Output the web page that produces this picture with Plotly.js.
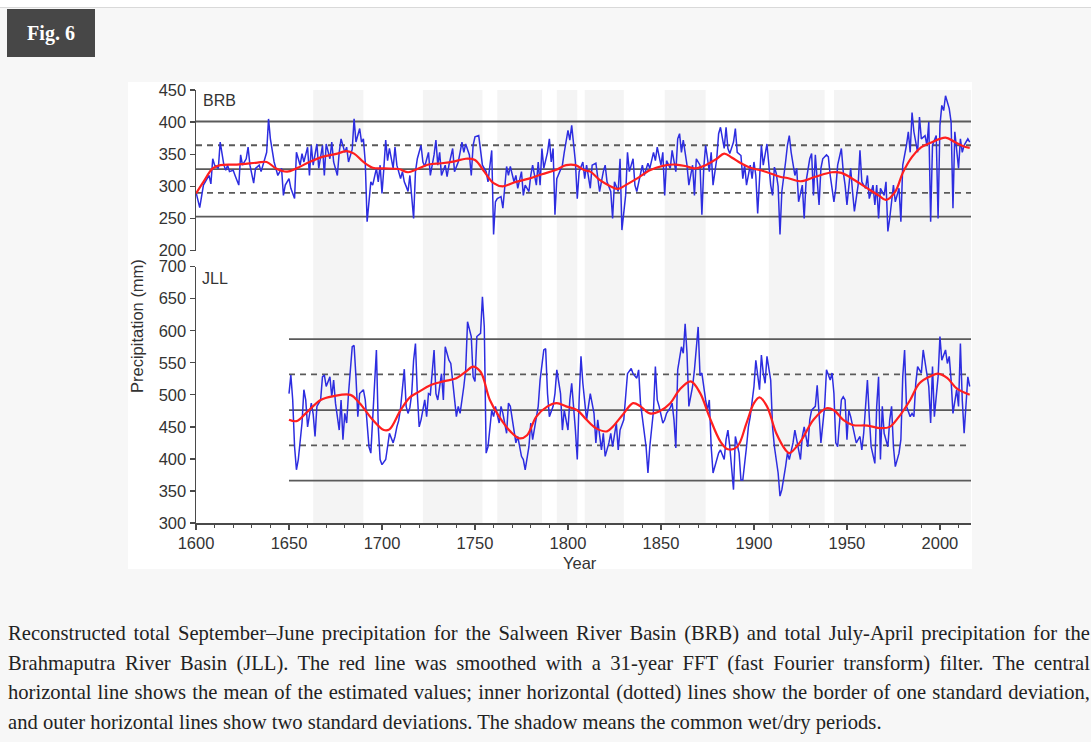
<!DOCTYPE html>
<html>
<head>
<meta charset="utf-8">
<script src="https://cdn.plot.ly/plotly-3.0.1.min.js"></script>
<style>
  html, body { margin:0; padding:0; }
  body { width:1091px; height:742px; overflow:hidden; position:relative; background:#f7f7f7; font-family:"Liberation Serif","Times New Roman",serif; }
  #topstrip { position:absolute; left:0; top:0; width:1091px; height:7px; background:#ffffff; border-bottom:1px solid #d9d9d9; }
  #figlabel { position:absolute; left:7px; top:9px; width:88px; height:48px; background:#474747; color:#ffffff; font-weight:bold; font-size:20px; line-height:48px; text-align:center; }
  #chartbox { position:absolute; left:128px; top:82px; width:844px; height:487px; background:#ffffff; }
  #plot { position:absolute; left:0; top:0; width:1091px; height:742px; }
  #caption { position:absolute; left:8px; top:619px; width:1082px; font-size:20.6px; line-height:29.7px; color:#222; }
  #caption .l { text-align:left; white-space:nowrap; }
  #caption .l span { display:inline-block; white-space:nowrap; }
  #caption .last { text-align:left; white-space:nowrap; }
</style>
</head>
<body>
<div id="topstrip"></div>
<div id="figlabel">Fig. 6</div>
<div id="chartbox"></div>
<div id="plot"></div>
<div id="caption">
  <div class="l"><span>Reconstructed total September–June precipitation for the Salween River Basin (BRB) and total July-April precipitation for the</span></div>
  <div class="l"><span>Brahmaputra River Basin (JLL). The red line was smoothed with a 31-year FFT (fast Fourier transform) filter. The central</span></div>
  <div class="l"><span>horizontal line shows the mean of the estimated values; inner horizontal (dotted) lines show the border of one standard deviation,</span></div>
  <div class="last">and outer horizontal lines show two standard deviations. The shadow means the common wet/dry periods.</div>
</div>
<script>
// ---------------- data ----------------
const brbYears = [1600,1602,1604,1605,1607,1608,1609,1610,1612,1613,1615,1616,1617,1618,1620,1621,1623,1624,1625,1627,1628,1629,1631,1632,1634,1635,1636,1638,1639,1640,1642,1643,1644,1646,1647,1648,1650,1651,1653,1654,1656,1657,1658,1660,1661,1662,1663,1665,1666,1668,1669,1670,1672,1673,1674,1676,1677,1678,1680,1681,1682,1684,1685,1686,1688,1689,1690,1691,1692,1694,1695,1697,1698,1699,1700,1701,1702,1703,1704,1706,1707,1708,1710,1711,1712,1713,1714,1715,1717,1718,1719,1721,1722,1723,1725,1726,1728,1729,1730,1731,1732,1734,1735,1736,1738,1739,1741,1742,1743,1744,1745,1747,1748,1749,1750,1752,1753,1754,1756,1757,1759,1760,1761,1762,1764,1765,1767,1768,1769,1771,1772,1773,1775,1776,1777,1779,1780,1781,1783,1784,1785,1786,1787,1789,1790,1791,1792,1793,1794,1796,1797,1798,1800,1801,1802,1804,1805,1806,1808,1809,1810,1812,1813,1815,1816,1817,1819,1820,1821,1823,1824,1825,1827,1828,1829,1831,1832,1833,1835,1836,1837,1839,1840,1841,1843,1844,1846,1847,1848,1850,1851,1852,1853,1855,1856,1858,1859,1860,1861,1862,1864,1865,1867,1868,1869,1871,1872,1873,1874,1876,1877,1878,1880,1881,1882,1884,1885,1886,1887,1889,1890,1891,1893,1894,1895,1896,1898,1899,1900,1901,1902,1904,1905,1907,1908,1909,1910,1911,1912,1913,1914,1915,1917,1918,1919,1920,1922,1923,1924,1926,1927,1928,1930,1931,1932,1933,1935,1936,1937,1939,1940,1941,1943,1944,1945,1947,1948,1949,1950,1952,1953,1954,1956,1957,1958,1960,1961,1962,1964,1965,1966,1967,1968,1970,1971,1972,1973,1975,1976,1978,1979,1980,1982,1983,1984,1985,1986,1988,1989,1990,1992,1993,1994,1995,1996,1998,1999,2000,2001,2002,2003,2005,2006,2007,2008,2010,2011,2012,2013,2015,2016];
const brbPrecip = [291,267,302,307,317,304,343,333,328,369,333,325,333,323,325,317,302,349,333,343,361,333,305,328,333,323,333,353,405,374,338,325,317,328,286,302,312,297,281,353,333,351,338,361,317,364,333,366,328,364,317,366,343,369,338,317,353,374,353,361,338,358,405,369,390,369,374,338,245,307,302,328,307,333,289,328,372,340,359,328,361,333,312,323,307,300,292,317,250,323,343,364,338,331,353,317,349,372,333,353,317,333,315,333,359,323,338,353,369,353,366,349,317,364,377,379,359,333,323,307,356,225,276,281,284,266,331,317,331,307,317,297,323,286,302,292,317,333,302,338,302,359,328,353,374,338,359,256,312,328,333,353,387,372,395,338,281,323,338,312,333,297,333,336,312,292,323,333,307,292,250,307,292,343,232,286,353,323,343,302,292,317,333,317,336,328,353,340,361,333,353,286,340,328,356,323,374,382,353,372,333,302,333,286,343,333,256,328,364,323,353,302,343,382,392,359,392,359,351,369,390,353,348,312,333,302,333,312,338,317,258,364,333,366,333,302,286,330,320,300,225,292,338,364,379,353,317,328,276,302,250,307,343,351,286,349,271,328,343,349,346,317,276,297,333,359,323,302,271,328,292,261,302,356,307,297,317,281,302,271,302,250,297,286,307,230,250,302,276,297,245,333,364,385,353,415,385,353,408,374,379,364,400,245,364,379,250,395,426,418,441,421,400,266,385,328,374,353,364,374,369];

const brbSmoothYears = [1600,1604,1609,1613,1622,1633,1638,1643,1649,1654,1661,1668,1676,1681,1685,1690,1695,1701,1709,1714,1719,1725,1732,1739,1745,1750,1755,1760,1765,1771,1779,1786,1793,1799,1804,1809,1812,1817,1823,1827,1831,1837,1844,1851,1858,1864,1868,1874,1880,1884,1888,1893,1898,1905,1914,1918,1925,1933,1942,1947,1954,1961,1967,1971,1976,1980,1985,1990,1995,2003,2008,2013,2016];
const brbSmooth = [289,307,328,333,334,337,338,328,323,328,338,346,351,355,351,338,329,328,327,322,327,334,336,339,343,341,323,305,300,306,312,319,325,333,333,325,323,310,300,296,302,312,325,332,334,331,328,333,343,351,345,336,329,324,315,313,308,315,322,321,310,297,286,279,292,321,346,361,368,376,369,362,360];

const jllYears = [1650,1651,1652,1653,1654,1655,1657,1658,1659,1660,1662,1663,1664,1665,1667,1668,1669,1670,1672,1673,1674,1675,1677,1678,1679,1680,1681,1682,1684,1685,1686,1687,1688,1690,1691,1693,1694,1695,1697,1698,1699,1700,1702,1703,1704,1706,1707,1708,1709,1710,1712,1713,1714,1715,1716,1717,1718,1719,1720,1721,1723,1724,1725,1726,1728,1729,1730,1732,1733,1734,1736,1737,1738,1740,1741,1742,1744,1745,1746,1748,1749,1750,1751,1753,1754,1755,1756,1757,1759,1760,1761,1763,1764,1765,1767,1768,1769,1771,1772,1773,1775,1776,1777,1779,1780,1781,1783,1784,1785,1787,1788,1789,1790,1792,1793,1794,1796,1797,1798,1800,1801,1802,1804,1805,1806,1807,1808,1810,1811,1812,1814,1815,1816,1818,1819,1820,1822,1823,1824,1826,1827,1828,1830,1831,1832,1834,1835,1837,1838,1839,1840,1842,1843,1844,1846,1847,1848,1849,1851,1852,1853,1855,1856,1857,1858,1859,1861,1862,1863,1864,1865,1867,1868,1869,1870,1871,1872,1874,1875,1876,1877,1878,1880,1881,1882,1884,1885,1886,1887,1889,1890,1892,1893,1894,1896,1897,1898,1900,1901,1902,1903,1904,1905,1906,1907,1909,1910,1911,1913,1914,1915,1917,1918,1919,1921,1922,1923,1925,1926,1927,1929,1930,1931,1933,1934,1935,1936,1938,1939,1941,1942,1943,1944,1945,1947,1948,1949,1950,1951,1952,1954,1955,1957,1958,1959,1961,1962,1963,1965,1966,1967,1968,1969,1970,1972,1973,1974,1975,1976,1978,1979,1980,1981,1982,1984,1985,1986,1987,1988,1990,1991,1992,1994,1995,1996,1997,1999,2000,2001,2003,2004,2005,2006,2007,2009,2010,2011,2012,2013,2015,2016];
const jllPrecip = [502,531,492,419,383,399,456,508,492,450,487,470,435,482,492,528,531,513,528,497,523,487,445,492,430,471,456,502,575,577,528,466,502,508,492,419,409,461,570,450,399,391,399,419,440,425,435,450,460,480,540,482,471,480,502,554,580,502,450,461,492,466,502,500,570,502,492,533,492,575,554,549,518,466,482,471,513,539,614,591,528,521,591,596,653,606,409,419,476,466,482,456,482,471,440,487,482,440,425,435,404,399,383,419,456,430,461,482,523,570,572,502,466,482,502,539,502,445,476,445,492,518,445,399,492,560,518,461,482,502,471,425,461,414,440,404,425,440,419,456,414,445,461,502,533,541,533,526,539,487,461,419,378,419,476,544,492,482,456,461,471,480,487,461,417,539,575,565,611,565,482,513,539,580,606,530,534,492,476,492,419,378,399,409,414,399,430,445,419,352,435,409,367,367,419,450,466,513,554,534,508,562,534,518,560,523,450,419,378,342,352,388,409,399,425,445,430,399,435,450,419,461,476,482,515,476,425,482,539,523,534,502,425,419,492,497,492,430,476,466,440,425,435,414,440,523,466,419,393,482,528,399,482,440,419,461,482,419,388,409,430,528,570,482,466,471,466,518,544,534,570,549,513,456,544,466,528,591,554,570,549,560,523,471,508,482,580,492,440,528,513];

const jllSmoothYears = [1650,1654,1659,1667,1674,1683,1688,1695,1701,1704,1710,1715,1720,1726,1733,1740,1745,1749,1753,1758,1763,1769,1774,1778,1783,1789,1794,1799,1805,1810,1815,1821,1824,1830,1835,1839,1844,1849,1855,1860,1866,1871,1876,1882,1886,1891,1896,1900,1903,1907,1912,1917,1919,1925,1932,1939,1943,1948,1953,1961,1968,1973,1978,1984,1989,1995,1999,2004,2009,2016];
const jllSmooth = [461,459,471,492,498,500,487,461,445,446,476,496,505,515,521,526,536,544,536,492,466,443,432,437,466,482,487,482,476,461,448,443,450,471,487,482,471,474,487,508,521,503,466,427,415,419,456,487,496,482,440,414,409,427,461,479,476,461,453,452,448,450,466,492,518,529,533,526,510,500];

// common wet/dry periods (shadow)
const bandStart = [1663,1722,1762,1794,1809,1852,1908,1943];
const bandEnd   = [1690,1754,1786,1805,1830,1874,1938,2016.7];

// mean, ±1 SD, ±2 SD levels
const brbLevels = [253,290,327,364,401];
const jllLevels = [366,421,476,532,587];
const levelDash = ['solid','dash','solid','dash','solid'];

const xStart = 1600, xEnd = 2016.7, jllStart = 1650;

// ---------------- figure ----------------
const axisColor = '#4a4a4a';
const fontFam = 'Arial, "Liberation Sans", sans-serif';
const tickFont = {family:fontFam, size:16.5, color:'#333'};

const traces = [
  {x:brbYears, y:brbPrecip, xaxis:'x', yaxis:'y', mode:'lines', line:{color:'#2d2de0', width:1.5}, hoverinfo:'skip'},
  {x:brbSmoothYears, y:brbSmooth, xaxis:'x', yaxis:'y', mode:'lines', line:{color:'#ff1f1f', width:2.2, shape:'spline', smoothing:1}, hoverinfo:'skip'},
  {x:jllYears, y:jllPrecip, xaxis:'x', yaxis:'y2', mode:'lines', line:{color:'#2d2de0', width:1.5}, hoverinfo:'skip'},
  {x:jllSmoothYears, y:jllSmooth, xaxis:'x', yaxis:'y2', mode:'lines', line:{color:'#ff1f1f', width:2.2, shape:'spline', smoothing:1}, hoverinfo:'skip'}
];

const shapes = [];
bandStart.forEach((s,i) => shapes.push({type:'rect', xref:'x', yref:'paper', x0:s, x1:bandEnd[i], y0:0, y1:1, fillcolor:'#f4f4f4', line:{width:0}, layer:'below'}));
brbLevels.forEach((v,i) => shapes.push({type:'line', xref:'x', yref:'y', x0:xStart, x1:xEnd, y0:v, y1:v, line:{color:'#5a5a5a', width:1.8, dash: levelDash[i]==='dash' ? '6px,5px' : 'solid'}, layer:'below'}));
jllLevels.forEach((v,i) => shapes.push({type:'line', xref:'x', yref:'y2', x0:jllStart, x1:xEnd, y0:v, y1:v, line:{color:'#5a5a5a', width:1.8, dash: levelDash[i]==='dash' ? '6px,5px' : 'solid'}, layer:'below'}));

const layout = {
  width:1091, height:742,
  margin:{l:196, r:120, t:90, b:219, pad:0},
  paper_bgcolor:'rgba(0,0,0,0)', plot_bgcolor:'rgba(0,0,0,0)',
  showlegend:false,
  font:tickFont,
  xaxis:{range:[xStart, xEnd], anchor:'y2', tick0:1600, dtick:50, showline:true, linecolor:axisColor, linewidth:1.5,
         ticks:'outside', ticklen:5, tickwidth:1.3, tickcolor:axisColor, showgrid:false, zeroline:false, tickfont:tickFont,
         minor:{dtick:10, tick0:1600, ticks:'outside', ticklen:3, tickcolor:axisColor, tickwidth:1, showgrid:false}},
  yaxis:{domain:[0.629,1], range:[200,450], dtick:50, tick0:200, anchor:'x', showline:true, linecolor:axisColor, linewidth:1.5,
         ticks:'outside', ticklen:5, tickwidth:1.3, tickcolor:axisColor, showgrid:false, zeroline:false, tickfont:tickFont},
  yaxis2:{domain:[0,0.592], range:[300,700], dtick:50, tick0:300, anchor:'x', showline:true, linecolor:axisColor, linewidth:1.5,
         ticks:'outside', ticklen:5, tickwidth:1.3, tickcolor:axisColor, showgrid:false, zeroline:false, tickfont:tickFont},
  shapes:shapes,
  annotations:[
    {text:'BRB', xref:'paper', yref:'paper', x:0.0065, y:0.9746, xanchor:'left', yanchor:'middle', showarrow:false, font:{family:fontFam, size:16, color:'#333'}},
    {text:'JLL', xref:'paper', yref:'paper', x:0.0052, y:0.5658, xanchor:'left', yanchor:'middle', showarrow:false, font:{family:fontFam, size:16, color:'#333'}},
    {text:'Precipitation (mm)', xref:'paper', yref:'paper', x:-0.0761, y:0.455, xanchor:'center', yanchor:'middle', textangle:-90, showarrow:false, font:{family:fontFam, size:16.5, color:'#333'}},
    {text:'Year', xref:'paper', yref:'paper', x:0.4955, y:-0.0924, xanchor:'center', yanchor:'middle', showarrow:false, font:{family:fontFam, size:16.5, color:'#333'}}
  ]
};

Plotly.newPlot('plot', traces, layout, {staticPlot:true, displayModeBar:false});

// fit each full caption line exactly to the column width
(function fitCaption(){
  const W = 1082;
  document.querySelectorAll('#caption .l span').forEach(sp => {
    const txt = sp.textContent;
    const spaces = (txt.match(/ /g) || []).length;
    const w = sp.getBoundingClientRect().width;
    if (spaces > 0) sp.style.wordSpacing = ((W - w) / spaces) + 'px';
  });
})();
</script>
</body>
</html>
